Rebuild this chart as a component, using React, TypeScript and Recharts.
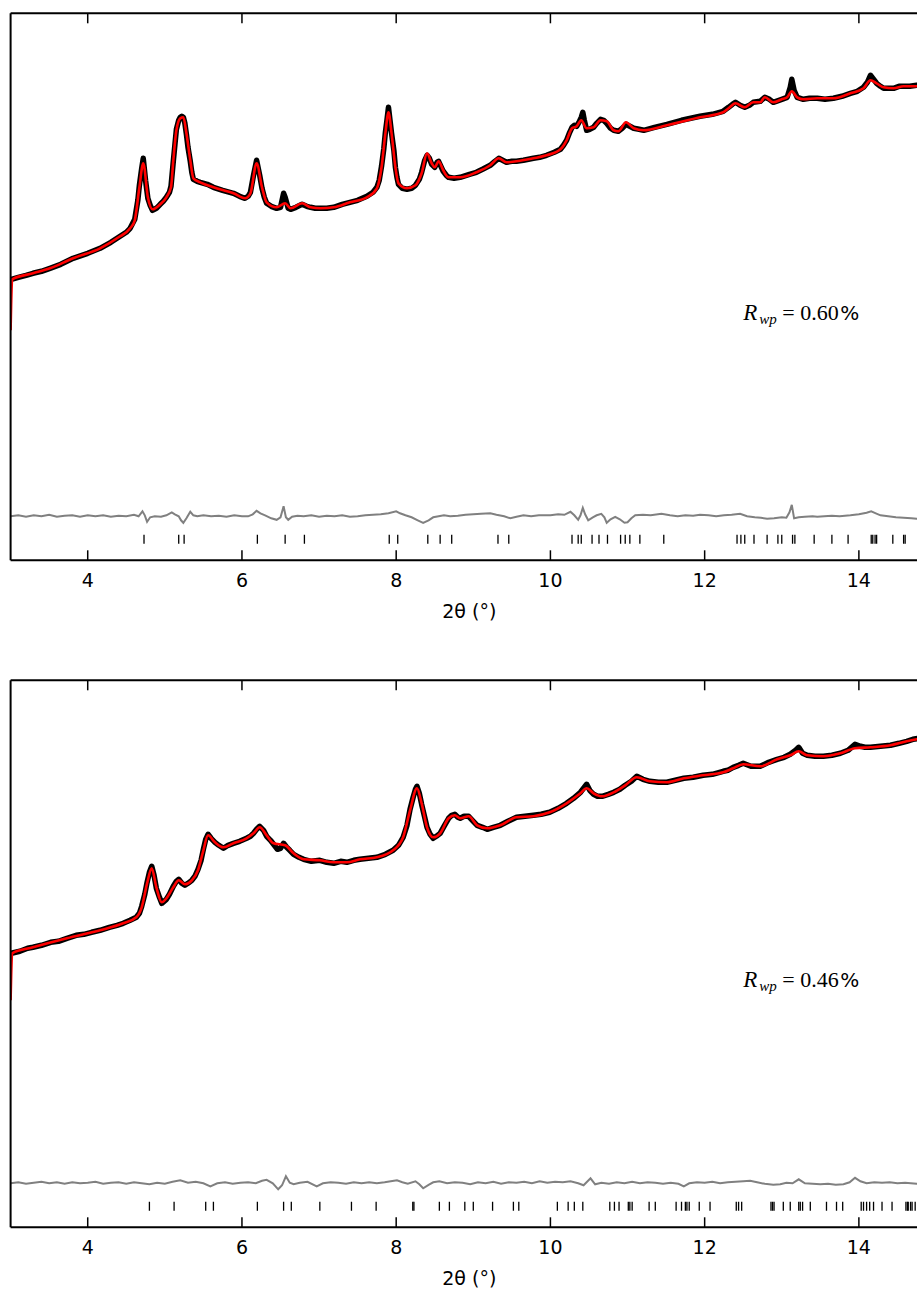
import React from "react";
import { ComposedChart, Line, Scatter, XAxis, YAxis, ReferenceDot } from "recharts";

type Pt = [number, number];

const ANGLE_TICKS = [4, 6, 8, 10, 12, 14];
const ANGLE_DOMAIN: [number, number] = [3, 15];
const HKL_LEVEL = 21;

// ---- upper pattern ----
const A_OBS: Pt[] = [
  [3.01, 281], [3.1, 283], [3.2, 285], [3.29, 287], [3.4, 289], [3.51, 292], [3.65, 296], [3.81, 302],
  [4.0, 307], [4.16, 312], [4.3, 318], [4.4, 323], [4.5, 328], [4.55, 332], [4.61, 341], [4.65, 360],
  [4.67, 375], [4.7, 392], [4.72, 402], [4.75, 380], [4.78, 362], [4.81, 355], [4.84, 350], [4.89, 352],
  [4.94, 356], [4.98, 359], [5.02, 363], [5.06, 368], [5.08, 374], [5.11, 399], [5.13, 415], [5.15, 431],
  [5.18, 440], [5.2, 443], [5.22, 444], [5.24, 443], [5.26, 437], [5.28, 426], [5.3, 413], [5.33, 399],
  [5.35, 388], [5.37, 381], [5.42, 379], [5.46, 378], [5.55, 376], [5.63, 373], [5.75, 370], [5.89, 367],
  [5.97, 364], [6.04, 362], [6.08, 364], [6.11, 368], [6.15, 385], [6.19, 400], [6.23, 385], [6.26, 372],
  [6.29, 363], [6.32, 357], [6.38, 354], [6.45, 352], [6.5, 353], [6.54, 367], [6.56, 363], [6.6, 352],
  [6.63, 351], [6.7, 353], [6.78, 356], [6.84, 354], [6.89, 353], [6.95, 352], [7.02, 352], [7.1, 352],
  [7.19, 353], [7.3, 356], [7.4, 358], [7.5, 360], [7.62, 364], [7.7, 368], [7.75, 373], [7.78, 380],
  [7.81, 394], [7.84, 412], [7.86, 428], [7.88, 440], [7.9, 453], [7.92, 440], [7.94, 427], [7.97, 410],
  [7.99, 393], [8.01, 383], [8.03, 376], [8.08, 372], [8.14, 371], [8.2, 372], [8.25, 375], [8.3, 381],
  [8.33, 388], [8.37, 400], [8.4, 405], [8.43, 402], [8.46, 396], [8.5, 393], [8.53, 398], [8.55, 399],
  [8.58, 394], [8.61, 389], [8.65, 385], [8.68, 383], [8.75, 382], [8.83, 383], [8.95, 386], [9.04, 388],
  [9.12, 391], [9.22, 395], [9.28, 399], [9.33, 402], [9.38, 400], [9.43, 398], [9.5, 399], [9.56, 399],
  [9.65, 400], [9.78, 402], [9.86, 403], [9.95, 405], [10.05, 408], [10.13, 411], [10.17, 415], [10.21, 420],
  [10.25, 428], [10.28, 433], [10.31, 435], [10.34, 434], [10.37, 438], [10.4, 443], [10.42, 448], [10.44, 440],
  [10.47, 430], [10.51, 431], [10.56, 433], [10.6, 437], [10.65, 441], [10.69, 440], [10.73, 437], [10.78, 432],
  [10.82, 430], [10.88, 429], [10.93, 432], [10.98, 436], [11.03, 434], [11.08, 432], [11.15, 431], [11.21, 430],
  [11.35, 433], [11.51, 436], [11.7, 440], [11.94, 444], [12.1, 446], [12.24, 449], [12.31, 453], [12.36, 456],
  [12.4, 458], [12.46, 455], [12.52, 453], [12.58, 455], [12.63, 458], [12.72, 459], [12.78, 463], [12.84, 461],
  [12.89, 458], [13.0, 461], [13.07, 463], [13.11, 473], [13.13, 481], [13.16, 470], [13.2, 463], [13.28, 461],
  [13.36, 462], [13.46, 462], [13.56, 461], [13.67, 462], [13.78, 464], [13.89, 467], [13.98, 469], [14.06, 473],
  [14.11, 478], [14.15, 485], [14.19, 481], [14.23, 477], [14.28, 474], [14.32, 472], [14.38, 472], [14.45, 472],
  [14.52, 474], [14.58, 474], [14.66, 474], [14.75, 475], [14.85, 475], [14.95, 476],
];

const A_CALC: Pt[] = [
  [3.0, 230], [3.02, 281], [3.29, 287], [3.51, 292], [3.81, 302], [4.16, 312], [4.4, 323], [4.55, 332],
  [4.61, 340], [4.67, 373], [4.72, 397], [4.78, 363], [4.84, 351], [4.94, 356], [5.02, 363], [5.08, 373],
  [5.11, 400], [5.15, 430], [5.2, 442], [5.24, 443], [5.28, 427], [5.33, 400], [5.37, 382], [5.46, 378],
  [5.63, 373], [5.89, 367], [6.04, 362], [6.11, 367], [6.19, 397], [6.26, 373], [6.32, 358], [6.45, 353],
  [6.56, 357], [6.63, 352], [6.78, 357], [6.89, 353], [7.02, 352], [7.19, 353], [7.4, 358], [7.62, 363],
  [7.75, 372], [7.81, 393], [7.86, 427], [7.9, 448], [7.94, 427], [7.99, 393], [8.03, 377], [8.14, 372],
  [8.25, 375], [8.33, 387], [8.4, 407], [8.46, 397], [8.5, 393], [8.55, 399], [8.61, 390], [8.68, 383],
  [8.83, 383], [9.04, 388], [9.22, 395], [9.33, 402], [9.43, 398], [9.56, 399], [9.78, 402], [9.95, 405],
  [10.13, 411], [10.21, 420], [10.28, 432], [10.34, 434], [10.4, 440], [10.47, 432], [10.56, 433], [10.65, 440],
  [10.73, 439], [10.82, 430], [10.88, 429], [10.98, 438], [11.08, 432], [11.21, 430], [11.51, 435], [11.94, 443],
  [12.24, 448], [12.31, 452], [12.4, 457], [12.52, 453], [12.63, 458], [12.72, 458], [12.78, 463], [12.89, 458],
  [13.0, 461], [13.07, 463], [13.13, 469], [13.2, 463], [13.28, 461], [13.46, 462], [13.67, 462], [13.89, 467],
  [14.06, 472], [14.15, 480], [14.23, 477], [14.32, 473], [14.45, 472], [14.58, 474], [14.75, 474], [15.0, 475],
];

const A_DIFF: Pt[] = [
  [3.0, 44], [3.1, 45], [3.2, 43.5], [3.3, 45], [3.4, 44], [3.5, 45.5], [3.6, 43.5], [3.7, 44.5], [3.8, 45],
  [3.9, 43.5], [4.0, 45], [4.1, 44], [4.2, 45], [4.3, 43.5], [4.4, 44.5], [4.5, 44], [4.6, 45.5], [4.66, 44],
  [4.71, 49], [4.74, 45], [4.77, 38.5], [4.81, 43], [4.87, 44], [4.95, 43.5], [5.02, 45], [5.09, 48], [5.13, 46],
  [5.18, 44], [5.21, 40], [5.24, 37.5], [5.28, 42], [5.33, 48.5], [5.37, 45], [5.42, 44], [5.5, 45], [5.6, 44],
  [5.7, 44.5], [5.8, 43.5], [5.9, 45], [6.0, 44], [6.08, 44], [6.14, 46], [6.19, 49.5], [6.24, 47], [6.3, 45],
  [6.38, 42], [6.45, 40.5], [6.5, 43], [6.54, 54], [6.57, 43], [6.6, 40.5], [6.65, 43.5], [6.72, 44.5], [6.8, 44],
  [6.9, 45], [7.0, 43.5], [7.1, 44.5], [7.2, 44], [7.3, 45], [7.4, 43.5], [7.5, 44], [7.6, 45], [7.7, 45.5],
  [7.8, 46], [7.9, 47], [8.0, 49], [8.05, 47], [8.12, 45], [8.2, 43], [8.28, 40], [8.35, 37.5], [8.42, 40],
  [8.48, 43], [8.55, 44], [8.62, 45], [8.7, 44], [8.8, 44.5], [8.9, 45.5], [9.0, 46], [9.1, 46.5], [9.22, 47],
  [9.3, 45.5], [9.4, 44], [9.48, 42], [9.56, 43.5], [9.65, 45], [9.75, 44], [9.85, 45], [10.0, 45], [10.1, 46],
  [10.18, 45.5], [10.26, 48.5], [10.31, 45], [10.36, 40.5], [10.39, 45], [10.42, 52.5], [10.45, 46], [10.49, 40],
  [10.55, 43], [10.6, 45], [10.66, 46.5], [10.7, 43], [10.73, 37.5], [10.78, 41], [10.84, 43.5], [10.9, 41],
  [10.96, 37.5], [11.0, 38], [11.05, 42], [11.1, 45], [11.2, 45.5], [11.3, 45], [11.44, 46.5], [11.55, 45],
  [11.65, 44], [11.75, 45], [11.85, 44.5], [11.94, 45.5], [12.05, 45], [12.15, 44], [12.25, 45], [12.35, 45.5],
  [12.46, 46.5], [12.55, 44], [12.65, 43], [12.73, 42.5], [12.81, 41.5], [12.9, 42], [13.0, 43], [13.06, 42.5],
  [13.1, 48], [13.13, 55.5], [13.16, 42], [13.22, 43], [13.3, 43.5], [13.4, 44], [13.46, 43.5], [13.55, 44],
  [13.65, 44.5], [13.75, 44], [13.89, 45], [14.0, 46], [14.1, 47.5], [14.16, 49], [14.22, 47], [14.28, 45],
  [14.38, 44], [14.48, 43], [14.58, 42.5], [14.68, 42], [14.75, 41.5], [14.9, 42], [15.0, 42],
];

const A_HKL = [
  4.73, 5.18, 5.25, 6.2, 6.56, 6.81, 7.91, 8.02, 8.41, 8.57, 8.72, 9.32, 9.46, 10.28, 10.36, 10.4, 10.54,
  10.63, 10.74, 10.91, 10.97, 11.03, 11.16, 11.47, 12.42, 12.47, 12.52, 12.64, 12.81, 12.95, 13.0, 13.14,
  13.17, 13.42, 13.65, 13.86, 14.16, 14.18, 14.21, 14.23, 14.44, 14.58, 14.6,
];

const A_RWP = "0.60";

// ---- lower pattern ----
const B_OBS: Pt[] = [
  [3.01, 274], [3.12, 276], [3.22, 279], [3.29, 280], [3.4, 282], [3.52, 285], [3.62, 286], [3.73, 289],
  [3.85, 292], [3.95, 293], [4.05, 295], [4.16, 297], [4.28, 300], [4.38, 302], [4.46, 304], [4.55, 307],
  [4.63, 310], [4.67, 314], [4.7, 321], [4.74, 333], [4.77, 345], [4.8, 355], [4.83, 361], [4.86, 352],
  [4.89, 339], [4.93, 330], [4.96, 324], [5.02, 328], [5.06, 333], [5.11, 341], [5.15, 346], [5.18, 348],
  [5.22, 344], [5.26, 342], [5.3, 344], [5.35, 347], [5.39, 351], [5.43, 358], [5.47, 367], [5.5, 378],
  [5.53, 388], [5.56, 393], [5.6, 389], [5.65, 385], [5.7, 382], [5.76, 379], [5.82, 382], [5.89, 384],
  [5.97, 386], [6.06, 389], [6.11, 391], [6.15, 394], [6.19, 398], [6.23, 401], [6.28, 397], [6.32, 391],
  [6.37, 387], [6.41, 383], [6.46, 378], [6.5, 379], [6.54, 384], [6.58, 380], [6.62, 377], [6.67, 373],
  [6.74, 370], [6.8, 368], [6.9, 366], [7.01, 367], [7.1, 365], [7.19, 364], [7.28, 366], [7.36, 365],
  [7.45, 367], [7.53, 368], [7.64, 369], [7.75, 370], [7.86, 373], [7.96, 377], [8.03, 382], [8.09, 390],
  [8.14, 402], [8.18, 418], [8.22, 430], [8.25, 438], [8.27, 441], [8.3, 434], [8.33, 423], [8.37, 410],
  [8.4, 400], [8.44, 393], [8.48, 389], [8.52, 391], [8.57, 394], [8.62, 401], [8.68, 409], [8.72, 412],
  [8.76, 413], [8.8, 410], [8.83, 409], [8.88, 411], [8.94, 411], [9.0, 406], [9.05, 402], [9.12, 400],
  [9.18, 398], [9.26, 400], [9.35, 402], [9.45, 406], [9.56, 410], [9.67, 411], [9.78, 412], [9.88, 413],
  [9.99, 415], [10.1, 419], [10.21, 424], [10.3, 429], [10.39, 435], [10.44, 440], [10.47, 443], [10.51, 437],
  [10.56, 433], [10.61, 431], [10.67, 431], [10.75, 433], [10.82, 435], [10.9, 438], [10.97, 442], [11.05, 446],
  [11.12, 451], [11.2, 448], [11.29, 446], [11.4, 445], [11.51, 445], [11.62, 447], [11.73, 449], [11.85, 450],
  [11.98, 452], [12.1, 453], [12.24, 456], [12.3, 457], [12.37, 460], [12.44, 462], [12.5, 464], [12.6, 461],
  [12.72, 461], [12.83, 465], [12.94, 468], [13.03, 470], [13.11, 473], [13.18, 477], [13.22, 480], [13.27, 474],
  [13.33, 472], [13.43, 471], [13.54, 471], [13.65, 472], [13.76, 474], [13.86, 477], [13.95, 483], [14.02, 481],
  [14.08, 480], [14.15, 480], [14.28, 481], [14.41, 482], [14.52, 484], [14.62, 486], [14.7, 488], [14.78, 489],
  [14.9, 490],
];

const B_CALC: Pt[] = [
  [3.0, 227], [3.02, 274], [3.29, 280], [3.73, 289], [4.16, 297], [4.46, 304], [4.63, 310], [4.7, 320],
  [4.77, 344], [4.83, 359], [4.89, 340], [4.96, 325], [5.02, 329], [5.11, 340], [5.18, 347], [5.26, 343],
  [5.35, 347], [5.43, 357], [5.5, 377], [5.56, 392], [5.65, 385], [5.76, 380], [5.89, 384], [6.06, 389],
  [6.15, 394], [6.23, 400], [6.32, 392], [6.41, 384], [6.56, 382], [6.67, 374], [6.8, 368], [7.01, 367],
  [7.19, 365], [7.36, 365], [7.53, 368], [7.75, 370], [7.96, 377], [8.09, 390], [8.18, 417], [8.27, 439],
  [8.33, 424], [8.4, 400], [8.48, 390], [8.57, 394], [8.68, 409], [8.76, 412], [8.83, 409], [8.94, 411],
  [9.05, 402], [9.18, 399], [9.35, 402], [9.56, 410], [9.78, 411], [9.99, 415], [10.21, 424], [10.39, 434],
  [10.47, 439], [10.56, 434], [10.67, 431], [10.82, 435], [10.97, 442], [11.12, 450], [11.29, 446], [11.51, 445],
  [11.73, 449], [11.98, 452], [12.24, 455], [12.37, 459], [12.5, 463], [12.72, 461], [12.94, 468], [13.11, 472],
  [13.22, 476], [13.33, 472], [13.54, 471], [13.76, 474], [13.95, 479], [14.15, 480], [14.41, 482], [14.62, 486],
  [14.75, 488], [15.0, 491],
];

const B_DIFF: Pt[] = [
  [3.0, 44], [3.1, 45], [3.2, 43.5], [3.3, 44.5], [3.4, 45.5], [3.5, 44], [3.6, 45], [3.7, 43.5], [3.8, 45],
  [3.9, 44], [4.0, 44.5], [4.1, 45.5], [4.2, 43.5], [4.3, 44.5], [4.4, 45], [4.5, 43.5], [4.6, 45], [4.7, 44],
  [4.8, 43], [4.9, 44.5], [5.0, 43.5], [5.1, 45.5], [5.2, 47], [5.3, 44.5], [5.4, 45.5], [5.5, 44], [5.59, 41],
  [5.68, 44], [5.78, 45], [5.88, 43.5], [5.98, 44.5], [6.08, 45], [6.18, 44], [6.26, 46.5], [6.32, 47.5],
  [6.4, 44], [6.47, 38], [6.52, 42], [6.57, 51], [6.62, 44.5], [6.67, 43], [6.75, 44.5], [6.85, 45.5], [6.97, 41],
  [7.05, 44], [7.15, 45], [7.25, 44.5], [7.35, 43.5], [7.45, 45], [7.55, 44], [7.65, 45], [7.75, 44], [7.85, 45],
  [7.93, 46], [8.01, 47], [8.08, 45], [8.15, 43.5], [8.25, 46], [8.3, 43], [8.35, 39], [8.42, 42.5], [8.48, 45],
  [8.56, 46], [8.66, 44], [8.76, 45], [8.86, 44.5], [8.96, 43], [9.06, 45], [9.16, 44], [9.26, 45.5], [9.36, 43.5],
  [9.46, 45], [9.56, 44.5], [9.66, 45.5], [9.76, 44], [9.86, 46], [9.96, 44.5], [10.06, 45.5], [10.16, 45],
  [10.26, 46], [10.36, 44], [10.43, 42], [10.52, 49], [10.58, 43], [10.66, 44.5], [10.76, 43.5], [10.86, 45],
  [10.96, 44], [11.06, 45.5], [11.16, 44], [11.26, 45], [11.36, 44.5], [11.46, 43.5], [11.56, 44.5], [11.66, 43.5],
  [11.73, 41], [11.8, 44], [11.9, 45], [12.0, 44.5], [12.1, 45.5], [12.2, 44], [12.3, 45], [12.4, 45.5], [12.5, 46],
  [12.59, 46.5], [12.68, 45], [12.78, 43.5], [12.89, 42.5], [12.98, 43], [13.06, 44.5], [13.14, 44], [13.22, 48],
  [13.3, 44], [13.4, 43.5], [13.5, 43], [13.6, 43.5], [13.7, 42.5], [13.8, 43], [13.88, 45], [13.95, 49.5],
  [14.02, 46], [14.1, 44], [14.2, 45], [14.3, 44.5], [14.4, 45], [14.5, 44], [14.6, 44.5], [14.75, 43.5], [14.9, 44],
  [15.0, 44],
];

const B_HKL = [
  4.8, 5.12, 5.53, 5.63, 6.2, 6.54, 6.64, 7.01, 7.42, 7.74, 8.215, 8.23, 8.56, 8.69, 8.89, 9.0, 9.25, 9.52,
  9.59, 10.09, 10.23, 10.31, 10.42, 10.77, 10.83, 10.89, 11.01, 11.03, 11.06, 11.28, 11.36, 11.63, 11.7, 11.75,
  11.77, 11.8, 11.93, 12.07, 12.41, 12.44, 12.48, 12.86, 12.88, 12.9, 13.02, 13.11, 13.22, 13.24, 13.27, 13.37,
  13.58, 13.71, 13.79, 14.03, 14.06, 14.1, 14.14, 14.19, 14.3, 14.43, 14.61, 14.63, 14.64, 14.67, 14.69, 14.73,
];

const B_RWP = "0.46";

const toRows = (pts: Pt[]) => pts.map(([x, y]) => ({ x, y }));

const AXIS_FONT = "DejaVu Sans";

function AngleTick({ x, y, payload }: any) {
  return (
    <text x={x} y={y + 37} textAnchor="middle" fontFamily={AXIS_FONT} fontSize={19} fill="#000">
      {payload.value}
    </text>
  );
}

// top axis keeps its tick marks but carries no numbers
const NoTickLabel = () => <g />;

function AngleLabel({ viewBox }: any) {
  const cx = viewBox.x + viewBox.width / 2 - 4;
  return (
    <text x={cx} y={viewBox.y + 58} textAnchor="middle" fontFamily={AXIS_FONT} fontSize={19} fill="#000">
      2θ (°)
    </text>
  );
}

function HklMark({ cx, cy }: any) {
  return <line x1={cx} x2={cx} y1={cy - 4.5} y2={cy + 4.5} stroke="#000" strokeWidth={1.3} />;
}

function rwpLabel(value: string) {
  return ({ viewBox }: any) => {
    const x0 = viewBox.x;
    const y0 = viewBox.y;
    return (
      <text y={y0} fontFamily="Liberation Serif" fontSize={22} fill="#000">
        <tspan x={x0} fontStyle="italic" fontSize={23}>R</tspan>
        <tspan x={x0 + 16} dy={4} fontStyle="italic" fontSize={15}>wp</tspan>
        <tspan x={x0 + 39} dy={-4}>=</tspan>
        <tspan x={x0 + 57}>{value}</tspan>
        <tspan x={x0 + 97} fontFamily={AXIS_FONT} fontSize={20}>%</tspan>
      </text>
    );
  };
}

interface PanelProps {
  top: number;
  obs: Pt[];
  calc: Pt[];
  diff: Pt[];
  hkl: number[];
  rwp: string;
}

function RefinementPanel({ top, obs, calc, diff, hkl, rwp }: PanelProps) {
  const hklRows = hkl.map((x) => ({ x, y: HKL_LEVEL }));
  const frame = { stroke: "#000", strokeWidth: 2 };
  const tickLine = { stroke: "#000", strokeWidth: 1.5 };
  return (
    <div style={{ position: "absolute", left: 0, top }}>
      <ComposedChart width={946} height={631} margin={{ top: 12.3, right: 10, bottom: 0, left: 9.6 }}>
        <XAxis
          type="number"
          dataKey="x"
          domain={ANGLE_DOMAIN}
          ticks={ANGLE_TICKS}
          allowDataOverflow
          height={70.7}
          tickSize={-10}
          tickMargin={0}
          axisLine={frame}
          tickLine={tickLine}
          tick={<AngleTick />}
          label={{ content: <AngleLabel /> }}
        />
        <XAxis
          xAxisId="top"
          orientation="top"
          type="number"
          dataKey="x"
          domain={ANGLE_DOMAIN}
          ticks={ANGLE_TICKS}
          allowDataOverflow
          height={1}
          tickSize={-10}
          axisLine={frame}
          tickLine={tickLine}
          tick={<NoTickLabel />}
        />
        <YAxis type="number" domain={[0, 547]} width={1} tick={false} tickLine={false} axisLine={frame} allowDataOverflow />
        <Line
          data={toRows(obs)}
          dataKey="y"
          type="linear"
          stroke="#000"
          strokeWidth={5.5}
          strokeLinejoin="round"
          dot={false}
          isAnimationActive={false}
        />
        <Line
          data={toRows(calc)}
          dataKey="y"
          type="monotone"
          stroke="#ff0000"
          strokeWidth={2.6}
          dot={false}
          isAnimationActive={false}
        />
        <Line
          data={toRows(diff)}
          dataKey="y"
          type="linear"
          stroke="#808080"
          strokeWidth={2}
          dot={false}
          isAnimationActive={false}
        />
        <Scatter data={hklRows} dataKey="y" shape={<HklMark />} isAnimationActive={false} />
        <ReferenceDot x={12.5} y={240.5} r={0} fill="none" stroke="none" label={{ content: rwpLabel(rwp) }} />
      </ComposedChart>
    </div>
  );
}

export default function App() {
  return (
    <div
      style={{
        position: "absolute",
        left: 0,
        top: 0,
        width: 917,
        height: 1293,
        overflow: "hidden",
        background: "#fff",
      }}
    >
      <RefinementPanel top={0} obs={A_OBS} calc={A_CALC} diff={A_DIFF} hkl={A_HKL} rwp={A_RWP} />
      <RefinementPanel top={667.4} obs={B_OBS} calc={B_CALC} diff={B_DIFF} hkl={B_HKL} rwp={B_RWP} />
    </div>
  );
}
